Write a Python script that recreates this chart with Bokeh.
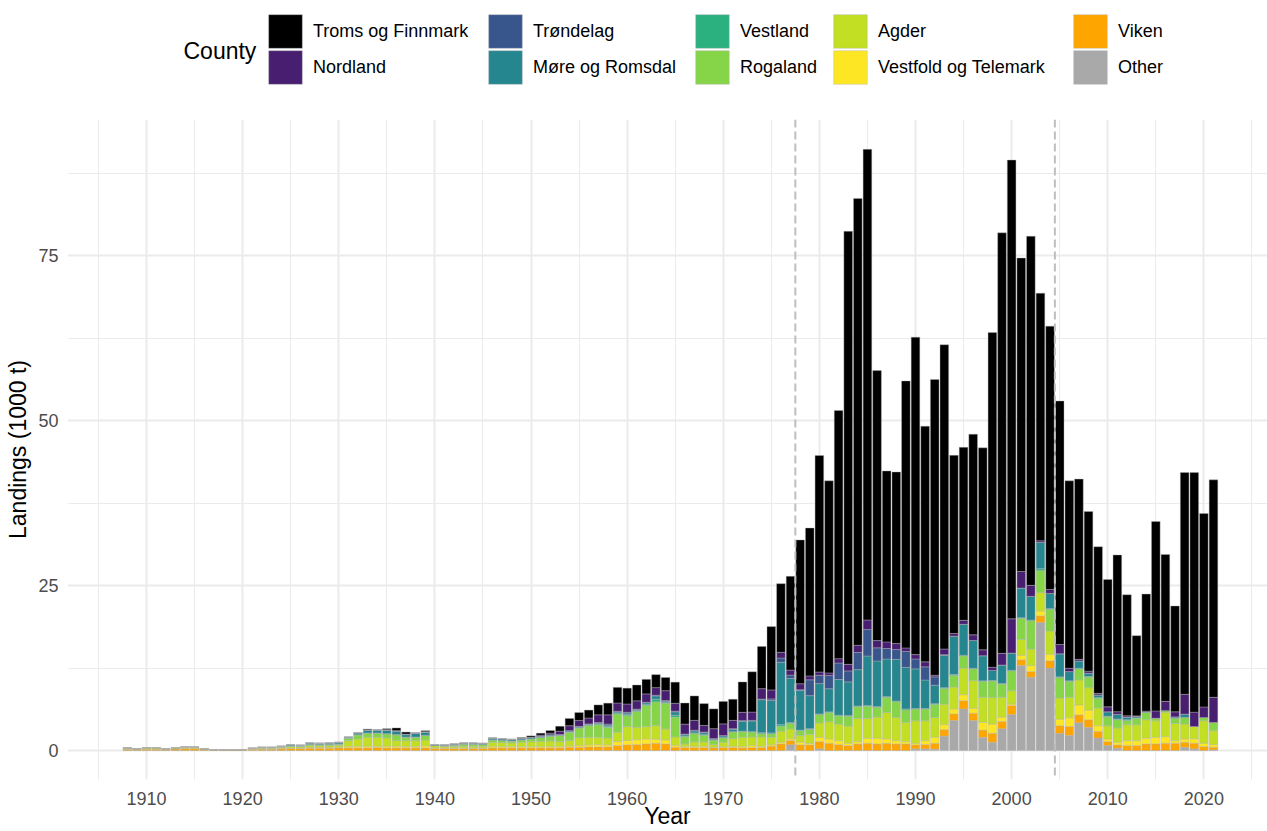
from bokeh.plotting import figure
from bokeh.layouts import column
from bokeh.models import (ColumnDataSource, FixedTicker, Legend, LegendItem,
                          Label, Span, Range1d)
from bokeh.embed import file_html
from bokeh.resources import INLINE

# ---------------- data ----------------
YEARS = list(range(1908, 2022))

COUNTIES = ["Troms og Finnmark", "Nordland", "Trøndelag", "Møre og Romsdal",
            "Vestland", "Rogaland", "Agder", "Vestfold og Telemark", "Viken", "Other"]
KEYS = ["troms", "nordland", "trondelag", "more", "vestland",
        "rogaland", "agder", "vestfold", "viken", "other"]
COLORS = ["#000000", "#481F70", "#39568C", "#26868F", "#2BB07F",
          "#86D549", "#C2DF23", "#FDE725", "#FFA500", "#A9A9A9"]

troms = [0, 0, 0, 0, 0, 0, 0, 0, 0, 0, 0, 0, 0,
         0, 0, 0, 0, 0, 0, 0, 0, 0, 0,
         0, 0, 0.10, 0, 0.15, 0.40, 0.30, 0, 0.15, 0,
         0, 0, 0, 0, 0, 0, 0, 0, 0.05, 0.20,
         0.30, 0.40, 0.75, 1.10, 1.20, 1.20, 1.50, 1.77, 2.37, 2.40,
         2.40, 2.20, 1.97, 2.00, 3.20, 3.20, 3.70, 3.30, 3.00, 3.40,
         3.20, 4.60, 6.10, 6.40, 9.60, 10.40, 14.20, 21.80, 22.40, 32.80,
         29.10, 37.60, 65.60, 67.70, 71.30, 40.90, 25.90, 26.00, 40.45, 48.10,
         35.70, 44.80, 46.10, 27.00, 26.20, 30.40, 30.60, 50.70, 63.70, 69.50,
         47.50, 52.90, 37.50, 39.90, 36.90, 28.40, 27.30, 24.20, 22.20, 19.30,
         23.75, 18.34, 12.15, 17.74, 28.70, 22.25, 16.04, 33.60, 36.30, 29.30, 32.95]

nordland = [0, 0, 0, 0, 0, 0, 0, 0, 0, 0, 0, 0, 0,
            0, 0, 0, 0, 0, 0, 0, 0, 0, 0.02,
            0, 0, 0.05, 0.05, 0.05, 0.05, 0.05, 0.05, 0.05, 0,
            0, 0.05, 0.05, 0.05, 0.04, 0.02, 0.04, 0.05, 0.07, 0.02,
            0.15, 0.25, 0.50, 0.75, 0.90, 0.90, 1.16, 1.40, 1.26, 1.26,
            1.26, 1.26, 1.16, 1.50, 1.20, 1.50, 1.50, 1.00, 1.50, 1.77,
            1.26, 1.26, 1.26, 1.57, 1.36, 0.86, 0.76, 0.90, 0.60, 0.50,
            0.40, 0.66, 1.00, 1.10, 1.46, 1.10, 1.00, 0.90, 0.55, 0.66,
            0.76, 0.25, 0.86, 0.40, 0.60, 0.86, 0.90, 0.50, 1.77, 5.20,
            2.50, 1.67, 0.25, 0.60, 1.40, 0.50, 0.25, 0.30, 0.25, 0.75,
            0.40, 0.20, 0.10, 0.10, 1.10, 1.40, 0.76, 3.00, 2.17, 1.60, 3.80]

trondelag = [0, 0, 0, 0, 0, 0, 0, 0, 0, 0, 0, 0, 0,
             0, 0, 0, 0, 0, 0, 0.02, 0.02, 0.03, 0.03,
             0, 0.05, 0.05, 0.05, 0.05, 0.05, 0.05, 0.05, 0.05, 0,
             0, 0, 0, 0, 0, 0.03, 0.03, 0.03, 0.03, 0.03,
             0.03, 0.03, 0.05, 0.05, 0.05, 0.05, 0.10, 0.15, 0.10, 0.10,
             0.10, 0.10, 0.10, 0.10, 0.10, 0.10, 0.10, 0.10, 0.05, 0.05,
             0.10, 0.10, 0.10, 0.10, 0.25, 0.66, 0.50, 0.10, 2.40, 1.26,
             2.00, 2.50, 1.66, 2.60, 4.00, 2.00, 1.60, 1.50, 2.40, 1.50,
             2.00, 1.26, 0.10, 0, 0, 0, 0, 0, 0, 0,
             0, 0, 0, 0, 0, 0, 0, 0, 0, 0,
             0, 0, 0, 0, 0, 0, 0, 0, 0, 0, 0]

more = [0, 0, 0, 0, 0, 0, 0, 0, 0, 0, 0, 0, 0,
        0, 0.05, 0.05, 0.08, 0.17, 0.12, 0.20, 0.18, 0.20, 0.20,
        0.15, 0.25, 0.40, 0.40, 0.50, 0.50, 0.35, 0.55, 0.45, 0.15,
        0.15, 0.15, 0.15, 0.15, 0.15, 0.25, 0.23, 0.20, 0.20, 0.20,
        0.17, 0.17, 0.10, 0.15, 0.15, 0.15, 0.15, 0.20, 0.15, 0.25,
        0.15, 0.25, 0.50, 0.20, 0.50, 0.20, 0.30, 0.30, 0.15, 0.25,
        0.35, 1.50, 1.60, 5.00, 4.90, 9.44, 6.70, 6.00, 5.00, 4.60,
        3.50, 5.40, 5.10, 5.50, 7.50, 6.90, 5.70, 6.30, 6.30, 6.00,
        4.30, 2.80, 4.90, 5.80, 4.70, 4.20, 3.80, 1.50, 2.80, 2.60,
        4.50, 3.60, 4.00, 2.30, 3.50, 1.40, 1.10, 0.50, 0.40, 0.66,
        0.70, 0.40, 0.20, 0.10, 0, 0, 0.20, 0.50, 0, 0, 0]

vestland = [0, 0, 0, 0, 0, 0, 0, 0, 0, 0, 0, 0, 0,
            0, 0, 0, 0.02, 0.03, 0.03, 0.05, 0.05, 0.05, 0.05,
            0.05, 0.05, 0.05, 0.05, 0.05, 0.05, 0.05, 0.05, 0.05, 0,
            0, 0.01, 0.01, 0.01, 0.01, 0.02, 0.02, 0.02, 0.02, 0.02,
            0.02, 0.02, 0.03, 0.05, 0.05, 0.05, 0.10, 0.15, 0.15, 0.15,
            0.10, 0.15, 0.40, 0.10, 0.30, 0.10, 0.10, 0.10, 0.05, 0.05,
            0.05, 0.07, 0.07, 0.15, 0.15, 0.25, 0.10, 0.10, 0.10, 0.10,
            0.10, 0.10, 0.10, 0.10, 0.10, 0.10, 0.10, 0.10, 0.15, 0.10,
            0.10, 0.10, 0.10, 0.15, 0.10, 0.10, 0.10, 0.10, 0.10, 0.10,
            0.10, 0.10, 0.30, 0.10, 0.10, 0.10, 0.10, 0.10, 0.10, 0.10,
            0.10, 0.10, 0.05, 0, 0, 0, 0, 0, 0, 0, 0]

rogaland = [0.05, 0.04, 0.08, 0.08, 0.04, 0.07, 0.08, 0.08, 0.03, 0, 0, 0, 0,
            0.04, 0.08, 0.08, 0.10, 0.13, 0.10, 0.17, 0.15, 0.16, 0.18,
            0.35, 0.60, 0.60, 0.60, 0.60, 0.86, 0.50, 0.50, 0.66, 0,
            0.06, 0.20, 0.30, 0.30, 0.26, 0.35, 0.30, 0.27, 0.35, 0.40,
            0.58, 0.71, 0.90, 1.26, 1.46, 1.77, 1.90, 1.60, 2.78, 1.67,
            2.40, 3.20, 3.60, 3.90, 3.00, 1.10, 1.26, 1.00, 0.66, 0.66,
            1.00, 0.86, 0.75, 0.50, 0.50, 0.75, 0.86, 0.75, 0.75, 1.26,
            1.40, 1.26, 1.50, 1.80, 1.87, 1.50, 2.30, 2.40, 1.90, 1.77,
            1.77, 2.00, 2.40, 1.77, 1.87, 1.77, 2.40, 2.50, 2.00, 3.00,
            3.20, 4.30, 3.30, 3.30, 3.10, 2.40, 1.67, 1.60, 1.46, 1.36,
            1.26, 0.66, 1.00, 1.10, 0.40, 0.25, 0.80, 1.00, 0, 0.50, 1.26]

agder = [0.10, 0.07, 0.12, 0.12, 0.07, 0.11, 0.14, 0.14, 0.08, 0.02, 0.02, 0.02, 0.02,
         0.08, 0.12, 0.12, 0.15, 0.20, 0.18, 0.25, 0.24, 0.25, 0.26,
         0.90, 1.10, 1.36, 1.36, 1.26, 0.86, 0.90, 0.90, 0.90, 0.35,
         0.25, 0.20, 0.25, 0.25, 0.25, 0.65, 0.60, 0.55, 0.65, 0.75,
         0.78, 0.85, 0.75, 0.80, 1.20, 1.16, 1.10, 1.06, 1.40, 2.10,
         1.87, 1.87, 2.07, 1.67, 1.26, 0.40, 0.66, 0.66, 0.40, 0.66,
         1.16, 1.40, 1.30, 1.40, 1.16, 1.67, 1.50, 1.00, 1.40, 2.17,
         2.60, 2.50, 2.60, 3.50, 3.00, 3.20, 4.00, 3.50, 2.90, 3.40,
         3.00, 3.00, 3.10, 3.30, 4.00, 4.20, 3.80, 4.00, 3.00, 2.00,
         2.40, 2.50, 2.80, 3.50, 3.20, 3.10, 3.80, 3.40, 2.70, 2.00,
         2.17, 2.40, 2.40, 2.80, 2.50, 3.70, 2.60, 2.27, 1.87, 3.40, 2.10]

vestfold = [0.05, 0.04, 0.05, 0.05, 0.04, 0.05, 0.06, 0.06, 0.04, 0.03, 0.03, 0.03, 0.03,
            0.05, 0.05, 0.05, 0.06, 0.08, 0.08, 0.12, 0.12, 0.12, 0.12,
            0.20, 0.25, 0.25, 0.20, 0.25, 0.25, 0.20, 0.20, 0.30, 0.10,
            0.10, 0.10, 0.10, 0.10, 0.10, 0.20, 0.20, 0.20, 0.20, 0.20,
            0.20, 0.20, 0.20, 0.20, 0.25, 0.30, 0.35, 0.30, 0.60, 0.66,
            0.75, 0.75, 0.60, 0.60, 0.30, 0.15, 0.20, 0.20, 0.10, 0.15,
            0.20, 0.20, 0.30, 0.20, 0.20, 0.25, 0.25, 0.40, 0.20, 0.66,
            0.66, 0.60, 0.35, 0.35, 0.75, 0.86, 0.66, 0.50, 0.35, 0.25,
            0.60, 0.90, 0.75, 0.75, 0.90, 0.75, 1.16, 1.40, 0.66, 0.25,
            0.66, 0.90, 0.75, 1.00, 1.00, 1.30, 1.50, 1.46, 0.86, 0.40,
            0.40, 0.75, 0.75, 0.86, 1.00, 1.00, 0.40, 0.50, 0.66, 0.50, 0.40]

viken = [0.20, 0.15, 0.20, 0.20, 0.15, 0.22, 0.28, 0.28, 0.15, 0.10, 0.10, 0.10, 0.10,
         0.18, 0.20, 0.20, 0.25, 0.30, 0.30, 0.35, 0.35, 0.35, 0.40,
         0.40, 0.40, 0.40, 0.45, 0.40, 0.40, 0.40, 0.40, 0.40, 0.30,
         0.30, 0.30, 0.30, 0.30, 0.30, 0.40, 0.40, 0.40, 0.40, 0.40,
         0.40, 0.40, 0.40, 0.50, 0.50, 0.55, 0.55, 0.55, 0.76, 0.86,
         0.90, 1.00, 1.10, 1.00, 0.50, 0.45, 0.45, 0.45, 0.40, 0.45,
         0.45, 0.40, 0.45, 0.45, 0.66, 1.00, 0.66, 0.86, 0.86, 1.10,
         1.10, 0.90, 0.75, 1.00, 1.10, 1.00, 1.10, 1.00, 1.00, 0.60,
         0.66, 0.90, 1.00, 1.00, 1.26, 1.10, 1.10, 1.36, 1.10, 1.36,
         0.86, 0.86, 1.00, 1.10, 1.16, 1.36, 1.20, 1.16, 1.00, 0.60,
         0.50, 0.75, 0.75, 1.00, 1.00, 1.10, 1.10, 0.75, 0.86, 0.60, 0.40]

other = [0, 0, 0, 0, 0, 0, 0, 0, 0, 0, 0, 0, 0,
         0, 0, 0, 0, 0, 0, 0, 0, 0, 0,
         0, 0, 0, 0, 0, 0, 0, 0, 0, 0,
         0, 0, 0, 0, 0, 0, 0, 0, 0, 0,
         0, 0, 0, 0, 0, 0, 0, 0, 0, 0,
         0, 0, 0, 0, 0, 0, 0, 0, 0, 0,
         0, 0, 0, 0, 0, 0, 0.86, 0, 0, 0.25,
         0, 0, 0, 0, 0, 0, 0, 0, 0, 0.25,
         0.25, 0.20, 2.17, 4.55, 6.30, 4.55, 2.00, 1.26, 3.30, 5.45,
         12.90, 11.10, 19.40, 12.50, 2.60, 2.30, 4.20, 3.50, 1.90, 0.75,
         0.35, 0, 0, 0, 0, 0, 0, 0.50, 0.25, 0, 0.10]

X_TICKS = [1910, 1920, 1930, 1940, 1950, 1960, 1970, 1980, 1990, 2000, 2010, 2020]
X_MINOR = [1905, 1915, 1925, 1935, 1945, 1955, 1965, 1975, 1985, 1995, 2005, 2015, 2025]
Y_TICKS = [0, 25, 50, 75]
Y_MINOR = [12.5, 37.5, 62.5, 87.5]
PERIOD_MARKS = [1977.5, 2004.5]

LEGEND_COLS = [("Troms og Finnmark", "Nordland"),
               ("Trøndelag", "Møre og Romsdal"),
               ("Vestland", "Rogaland"),
               ("Agder", "Vestfold og Telemark"),
               ("Viken", "Other")]
# left edge of each legend column, relative to the aligned frame edge (x=67)
LEGEND_COL_X = [197, 417, 624, 762, 1002]
LEGEND_ROW_Y = [48, 12]

FONT = "Liberation Sans"
W = 1267
H_LEG = 100
H_MAIN = 731

data = dict(year=YEARS, troms=troms, nordland=nordland, trondelag=trondelag,
            more=more, vestland=vestland, rogaland=rogaland, agder=agder,
            vestfold=vestfold, viken=viken, other=other)
source = ColumnDataSource(data)
stack_keys = KEYS[::-1]          # bottom first
stack_colors = COLORS[::-1]

# ---------------- legend strip (own small figure) ----------------
leg_fig = figure(width=W, height=H_LEG, x_range=Range1d(0, 1), y_range=Range1d(0, 1),
                 output_backend="svg", toolbar_location=None,
                 x_axis_location=None, y_axis_location=None,
                 min_border=0, min_border_left=0, min_border_right=0,
                 min_border_top=0, min_border_bottom=0)
leg_fig.outline_line_color = None
leg_fig.grid.visible = False
# same stacked bars; they fall outside this strip's ranges, only their keys show
leg_renderers = leg_fig.vbar_stack(stack_keys, x="year", width=0.9, source=source,
                                   fill_color=stack_colors, line_color="#B0B0B0",
                                   line_width=0.4)
key_r = dict(zip(stack_keys, leg_renderers))
name_to_key = dict(zip(COUNTIES, KEYS))

leg_fig.add_layout(Label(x=116, y=50, x_units="screen", y_units="screen",
                         text="County", text_font=FONT, text_font_size="23px",
                         text_color="black", text_align="left",
                         text_baseline="middle"))
for pair, lx in zip(LEGEND_COLS, LEGEND_COL_X):
    for name, ly in zip(pair, LEGEND_ROW_Y):
        leg = Legend(items=[LegendItem(label=name, renderers=[key_r[name_to_key[name]]])],
                     location=(lx, ly), orientation="vertical",
                     glyph_width=42, glyph_height=42, label_height=42,
                     label_standoff=7, spacing=0, padding=0, margin=0,
                     border_line_color=None, background_fill_alpha=0,
                     label_text_font=FONT, label_text_font_size="18px",
                     label_text_color="black")
        leg_fig.add_layout(leg)

# ---------------- main chart ----------------
p = figure(width=W, height=H_MAIN,
           x_range=Range1d(1901.78, 2026.62), y_range=Range1d(-4.39, 95.606),
           output_backend="svg", toolbar_location=None,
           min_border_top=19, min_border_right=0, min_border_left=67,
           min_border_bottom=50)
p.outline_line_color = None
p.background_fill_color = "white"

p.vbar_stack(stack_keys, x="year", width=0.9, source=source,
             fill_color=stack_colors, line_color="#B0B0B0", line_width=0.4)

for loc in PERIOD_MARKS:
    p.add_layout(Span(location=loc, dimension="height", line_color="#BEBEBE",
                      line_dash="8 4", line_width=2))

p.xaxis.ticker = FixedTicker(ticks=X_TICKS, minor_ticks=X_MINOR)
p.yaxis.ticker = FixedTicker(ticks=Y_TICKS, minor_ticks=Y_MINOR)
for ax in (p.xaxis[0], p.yaxis[0]):
    ax.axis_line_color = None
    ax.major_tick_line_color = None
    ax.minor_tick_line_color = None
    ax.major_tick_out = 0
    ax.minor_tick_out = 0
    ax.major_label_text_font = FONT
    ax.major_label_text_font_size = "18px"
    ax.major_label_text_color = "#4D4D4D"
    ax.axis_label_text_font = FONT
    ax.axis_label_text_font_size = "23px"
    ax.axis_label_text_font_style = "normal"
    ax.axis_label_text_color = "black"
p.xaxis.major_label_standoff = 12
p.yaxis.major_label_standoff = 9
p.xaxis.axis_label = "Year"
p.xaxis.axis_label_standoff = -5
p.yaxis.axis_label = "Landings (1000 t)"
p.yaxis.axis_label_standoff = 4

for g in (p.xgrid[0], p.ygrid[0]):
    g.grid_line_color = "#EBEBEB"
    g.grid_line_width = 2
    g.minor_grid_line_color = "#EBEBEB"
    g.minor_grid_line_width = 1

layout = column(leg_fig, p, spacing=0)

with open("out.html", "w", encoding="utf-8") as f:
    f.write(file_html(layout, INLINE))
